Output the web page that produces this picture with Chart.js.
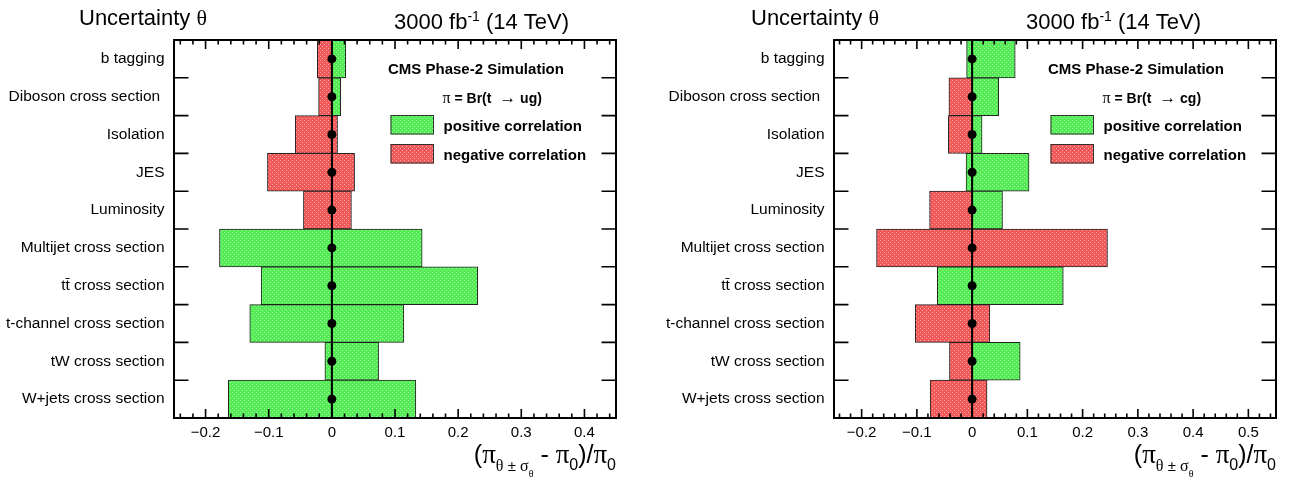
<!DOCTYPE html>
<html>
<head>
<meta charset="utf-8">
<script src="https://cdn.jsdelivr.net/npm/chart.js@4.4.1/dist/chart.umd.min.js"></script>
<style>
    body { margin: 0; background: #fff; }
    #wrap { position: relative; width: 1302px; height: 479px; }
    .panel { position: absolute; top: 0; height: 479px; }
</style>
</head>
<body>
<div id="wrap">
    <div class="panel" style="left:0;width:652px"><canvas id="ugChart" width="652" height="479"></canvas></div>
    <div class="panel" style="left:652px;width:650px"><canvas id="cgChart" width="650" height="479"></canvas></div>
</div>
<script>
// impacts of each nuisance on the fitted branching fraction, (pi_theta±sigma - pi_0)/pi_0

const uncertainties = [
    'b tagging', 'Diboson cross section ', 'Isolation', 'JES', 'Luminosity',
    'Multijet cross section', 'tt\u0304 cross section', 't-channel cross section',
    'tW cross section', 'W+jets cross section'
];
const nominalShift = [0, 0, 0, 0, 0, 0, 0, 0, 0, 0];

// t -> ug
const ugLow  = [-0.023, -0.021, -0.058, -0.102, -0.045, -0.178, -0.112, -0.130, -0.011, -0.164];
const ugHigh = [ 0.022,  0.014,  0.009,  0.036,  0.031,  0.143,  0.231,  0.114,  0.074,  0.133];
const ugLowCorr  = ['neg', 'neg', 'neg', 'neg', 'neg', 'pos', 'pos', 'pos', 'pos', 'pos'];
const ugHighCorr = ['pos', 'pos', 'neg', 'neg', 'neg', 'pos', 'pos', 'pos', 'pos', 'pos'];
const ugTicks = [-0.2, -0.1, 0, 0.1, 0.2, 0.3, 0.4];

// t -> cg
const cgLow  = [-0.010, -0.042, -0.043, -0.011, -0.077, -0.173, -0.063, -0.103, -0.041, -0.076];
const cgHigh = [ 0.078,  0.048,  0.018,  0.103,  0.055,  0.245,  0.165,  0.032,  0.087,  0.027];
const cgLowCorr  = ['pos', 'neg', 'neg', 'pos', 'neg', 'neg', 'pos', 'neg', 'neg', 'neg'];
const cgHighCorr = ['pos', 'pos', 'pos', 'pos', 'pos', 'neg', 'pos', 'neg', 'pos', 'neg'];
const cgTicks = [-0.2, -0.1, 0, 0.1, 0.2, 0.3, 0.4, 0.5];

const SANS = '"Liberation Sans", Arial, sans-serif';
const SERIF = '"Liberation Serif", "Times New Roman", serif';

// ROOT-like dotted fill, made on the chart's own context
function dotted(ctx, base) {
    const c = document.createElement('canvas');
    c.width = 4; c.height = 4;
    const g = c.getContext('2d');
    g.fillStyle = base;
    g.fillRect(0, 0, 4, 4);
    g.fillStyle = 'rgba(255,255,255,0.5)';
    g.fillRect(0, 0, 1, 1);
    g.fillRect(2, 2, 1, 1);
    return ctx.createPattern(c, 'repeat');
}

function fmtTick(v) {
    const r = Math.round(v * 10) / 10;
    if (r === 0) return '0';
    return r < 0 ? '\u2212' + String(-r) : String(r);
}

// draw a run of [text, font, dy] pieces, starting at x
function drawPieces(ctx, pieces, x, y, align) {
    let w = 0;
    pieces.forEach(p => { ctx.font = p[1]; w += ctx.measureText(p[0]).width; });
    let cx = align === 'right' ? x - w : x;
    ctx.textAlign = 'left';
    ctx.textBaseline = 'alphabetic';
    pieces.forEach(p => {
        ctx.font = p[1];
        ctx.fillText(p[0], cx, y + (p[2] || 0));
        cx += ctx.measureText(p[0]).width;
    });
}

const rootFrame = {
    id: 'rootFrame',
    beforeDatasetDraw(chart, args) {
        if (args.meta.type !== 'line') return;
        const {ctx, chartArea: a, scales: {x}} = chart;
        const px = x.getPixelForValue(0);
        ctx.save();
        ctx.strokeStyle = '#000';
        ctx.lineWidth = 2;
        ctx.beginPath();
        ctx.moveTo(px, a.top);
        ctx.lineTo(px, a.bottom);
        ctx.stroke();
        ctx.restore();
    },
    afterDraw(chart, args, opts) {
        const {ctx, chartArea: a, scales: {x, y}} = chart;
        ctx.save();

        // inward ticks
        ctx.strokeStyle = '#000';
        ctx.lineWidth = 1.6;
        ctx.beginPath();
        for (let k = Math.ceil(x.min / 0.02 - 1e-9); k * 0.02 <= x.max + 1e-9; k++) {
            const px = x.getPixelForValue(k * 0.02);
            const len = k % 5 === 0 ? 9 : 4.5;
            ctx.moveTo(px, a.bottom); ctx.lineTo(px, a.bottom - len);
            ctx.moveTo(px, a.top); ctx.lineTo(px, a.top + len);
        }
        for (let i = 0; i < y.ticks.length - 1; i++) {
            const py = (y.getPixelForTick(i) + y.getPixelForTick(i + 1)) / 2;
            ctx.moveTo(a.left, py); ctx.lineTo(a.left + 14.5, py);
            ctx.moveTo(a.right, py); ctx.lineTo(a.right - 14.5, py);
        }
        ctx.stroke();
        ctx.lineWidth = 2;
        ctx.strokeRect(a.left, a.top, a.right - a.left, a.bottom - a.top);

        ctx.fillStyle = '#000';

        // header
        drawPieces(ctx, [
            ['Uncertainty ', '22px ' + SANS],
            ['\u03b8', '22px ' + SERIF]
        ], a.left + opts.headDx, 25);
        drawPieces(ctx, [
            ['3000 fb', '22px ' + SANS],
            ['-1', '14px ' + SANS, -8],
            [' (14 TeV)', '22px ' + SANS]
        ], a.right + opts.lumiDx, 29);

        // legend
        const lx = a.left + 216.5;
        drawPieces(ctx, [['CMS Phase-2 Simulation', 'bold 15px ' + SANS]], a.left + 214, 74);
        drawPieces(ctx, [
            ['\u03c0', '16px ' + SERIF],
            [' = Br(t  ', 'bold 14px ' + SANS],
            ['\u2192', '17px ' + SERIF],
            [' ' + opts.channel + ')', 'bold 14px ' + SANS]
        ], a.left + 268.5, 102.5);
        [['pos', 'positive correlation', 115], ['neg', 'negative correlation', 144]].forEach(e => {
            ctx.fillStyle = opts.fills[e[0]];
            ctx.fillRect(lx, e[2], 43.5, 19.5);
            ctx.strokeStyle = '#333';
            ctx.lineWidth = 1;
            ctx.strokeRect(lx + 0.5, e[2] + 0.5, 42.5, 18.5);
            ctx.fillStyle = '#000';
            drawPieces(ctx, [[e[1], 'bold 15px ' + SANS]], a.left + 269.5, e[2] + 15.5);
        });

        // x-axis title
        drawPieces(ctx, [
            ['(', '25px ' + SANS],
            ['\u03c0', '27px ' + SERIF],
            ['\u03b8', '16px ' + SERIF, 8],
            [' \u00b1 ', '15px ' + SANS, 8],
            ['\u03c3', '16px ' + SERIF, 8],
            ['\u03b8', '10px ' + SERIF, 14],
            [' - ', '25px ' + SANS],
            ['\u03c0', '27px ' + SERIF],
            ['0', '16px ' + SANS, 7],
            [')/', '25px ' + SANS],
            ['\u03c0', '27px ' + SERIF],
            ['0', '16px ' + SANS, 7]
        ], a.right, 463, 'right');

        ctx.restore();
    }
};

function drawImpactPanel(canvasId, low, high, lowCorr, highCorr, tickValues, xMax, layout) {
    const canvas = document.getElementById(canvasId);
    const ctx = canvas.getContext('2d');
    const fills = { pos: dotted(ctx, 'rgb(84,236,84)'), neg: dotted(ctx, 'rgb(242,88,88)') };

    return new Chart(canvas, {
        type: 'bar',
        data: {
            labels: uncertainties,
            datasets: [{
                type: 'line',
                indexAxis: 'y',
                data: nominalShift,
                showLine: false,
                pointRadius: 4.5,
                pointBackgroundColor: '#000',
                pointBorderWidth: 0,
                order: 0
            }, {
                data: low.map(v => [v, 0]),
                backgroundColor: lowCorr.map(c => fills[c]),
                borderColor: '#222',
                borderWidth: 1,
                borderSkipped: false,
                order: 1
            }, {
                data: high.map(v => [0, v]),
                backgroundColor: highCorr.map(c => fills[c]),
                borderColor: '#222',
                borderWidth: 1,
                borderSkipped: false,
                order: 1
            }]
        },
        options: {
            indexAxis: 'y',
            responsive: false,
            animation: false,
            devicePixelRatio: 1,
            datasets: {
                bar: { grouped: false, categoryPercentage: 1, barPercentage: 1 }
            },
            layout: {
                padding: { top: 40, right: canvas.width - layout.right, bottom: 0, left: 0 }
            },
            plugins: {
                legend: { display: false },
                tooltip: { enabled: false },
                rootFrame: { headDx: layout.headDx, lumiDx: layout.lumiDx, channel: layout.channel, fills: fills }
            },
            scales: {
                x: {
                    type: 'linear',
                    min: -0.25,
                    max: xMax,
                    afterBuildTicks: s => { s.ticks = tickValues.map(v => ({ value: v })); },
                    afterFit: s => { s.height = 61; },
                    grid: { display: false, drawTicks: false },
                    border: { display: false },
                    ticks: {
                        font: { family: SANS, size: 15 },
                        color: '#000',
                        padding: 6,
                        maxRotation: 0,
                        autoSkip: false,
                        callback: v => fmtTick(v)
                    }
                },
                y: {
                    type: 'category',
                    offset: true,
                    afterFit: s => { s.width = layout.left; },
                    grid: { display: false, drawTicks: false },
                    border: { display: false },
                    ticks: {
                        font: { family: SANS, size: 15.5 },
                        color: '#000',
                        padding: 9.5,
                        autoSkip: false
                    }
                }
            }
        },
        plugins: [rootFrame]
    });
}

drawImpactPanel('ugChart', ugLow, ugHigh, ugLowCorr, ugHighCorr, ugTicks, 0.45,
    { left: 174, right: 616, headDx: -95, lumiDx: -222, channel: 'ug' });
drawImpactPanel('cgChart', cgLow, cgHigh, cgLowCorr, cgHighCorr, cgTicks, 0.55,
    { left: 182, right: 624, headDx: -83, lumiDx: -250, channel: 'cg' });
</script>
</body>
</html>
